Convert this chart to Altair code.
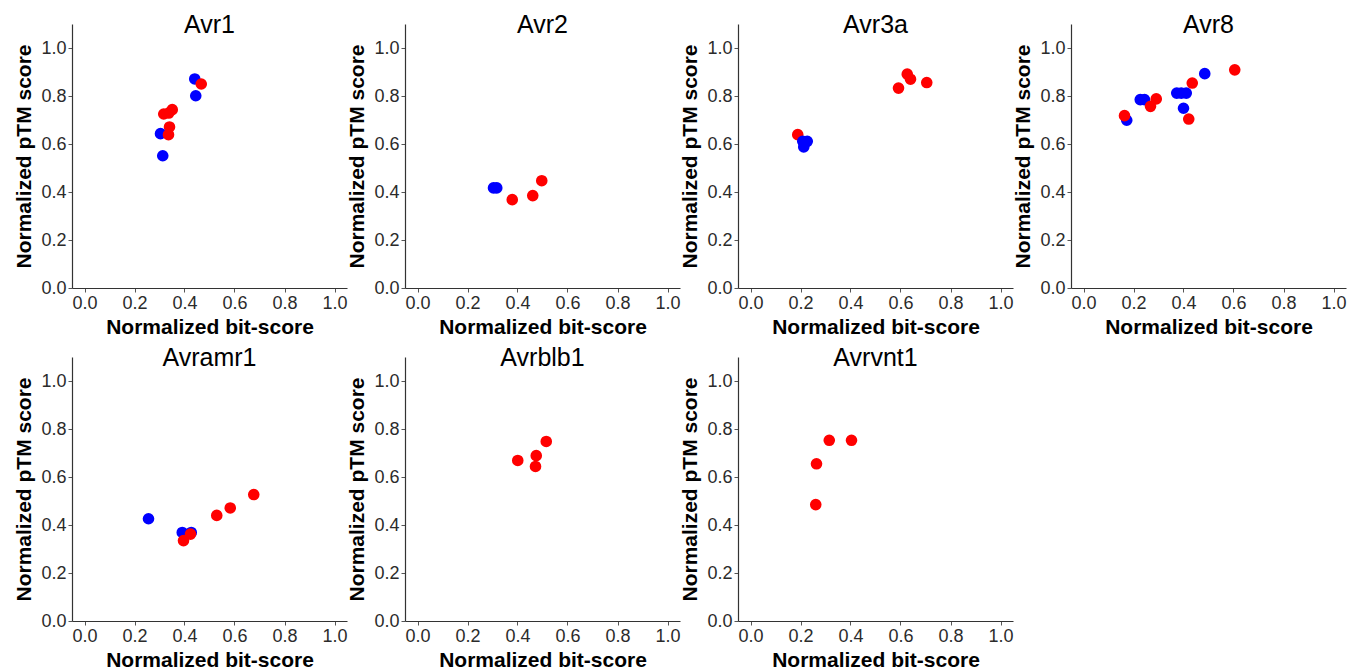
import altair as alt
import pandas as pd

panels = ["Avr1", "Avr2", "Avr3a", "Avr8", "Avramr1", "Avrblb1", "Avrvnt1"]

avr1_x = [0.441, 0.467, 0.445, 0.351, 0.337, 0.317, 0.340, 0.304, 0.336, 0.313]
avr1_y = [0.871, 0.850, 0.801, 0.743, 0.729, 0.725, 0.671, 0.643, 0.639, 0.551]
avr1_g = ["blue", "red", "blue", "red", "red", "red", "red", "blue", "red", "blue"]

avr2_x = [0.304, 0.317, 0.379, 0.461, 0.497]
avr2_y = [0.417, 0.417, 0.368, 0.385, 0.447]
avr2_g = ["blue", "blue", "red", "red", "red"]

avr3a_x = [0.189, 0.209, 0.227, 0.213, 0.592, 0.627, 0.640, 0.705]
avr3a_y = [0.639, 0.611, 0.611, 0.588, 0.833, 0.891, 0.870, 0.856]
avr3a_g = ["red", "blue", "blue", "blue", "red", "red", "red", "red"]

avr8_x = [0.173, 0.164, 0.227, 0.244, 0.291, 0.268, 0.373, 0.391, 0.411, 0.400, 0.421, 0.435, 0.485, 0.605]
avr8_y = [0.699, 0.718, 0.785, 0.785, 0.788, 0.757, 0.812, 0.812, 0.812, 0.749, 0.704, 0.854, 0.893, 0.909]
avr8_g = ["blue", "red", "blue", "blue", "red", "red", "blue", "blue", "blue", "blue", "red", "red", "blue", "red"]

avramr1_x = [0.256, 0.391, 0.427, 0.396, 0.424, 0.529, 0.583, 0.677]
avramr1_y = [0.426, 0.369, 0.369, 0.335, 0.362, 0.440, 0.471, 0.527]
avramr1_g = ["blue", "blue", "blue", "red", "red", "red", "red", "red"]

avrblb1_x = [0.401, 0.475, 0.472, 0.515]
avrblb1_y = [0.669, 0.689, 0.644, 0.748]
avrblb1_g = ["red", "red", "red", "red"]

avrvnt1_x = [0.315, 0.404, 0.264, 0.261]
avrvnt1_y = [0.753, 0.753, 0.655, 0.485]
avrvnt1_g = ["red", "red", "red", "red"]

series = {
    "Avr1": (avr1_x, avr1_y, avr1_g),
    "Avr2": (avr2_x, avr2_y, avr2_g),
    "Avr3a": (avr3a_x, avr3a_y, avr3a_g),
    "Avr8": (avr8_x, avr8_y, avr8_g),
    "Avramr1": (avramr1_x, avramr1_y, avramr1_g),
    "Avrblb1": (avrblb1_x, avrblb1_y, avrblb1_g),
    "Avrvnt1": (avrvnt1_x, avrvnt1_y, avrvnt1_g),
}

tick_values = [0.0, 0.2, 0.4, 0.6, 0.8, 1.0]
group_domain = ["blue", "red"]
group_colors = ["#0000FF", "#FF0000"]

FONT = "Liberation Sans"

charts = []
for name in panels:
    xs, ys, gs = series[name]
    df = pd.DataFrame({"x": xs, "y": ys, "group": gs})
    c = (
        alt.Chart(df)
        .mark_circle(size=135, opacity=1)
        .encode(
            x=alt.X(
                "x:Q",
                scale=alt.Scale(domain=[-0.05, 1.05], nice=False, zero=False),
                axis=alt.Axis(values=tick_values, format=".1f", title="Normalized bit-score"),
            ),
            y=alt.Y(
                "y:Q",
                scale=alt.Scale(domain=[0, 1.1], nice=False, zero=False),
                axis=alt.Axis(values=tick_values, format=".1f", title="Normalized pTM score"),
            ),
            color=alt.Color(
                "group:N",
                scale=alt.Scale(domain=group_domain, range=group_colors),
                legend=None,
            ),
        )
        .properties(
            width=275,
            height=264,
            title=alt.TitleParams(
                text=name, fontSize=25, font=FONT, fontWeight="normal",
                color="#000000", offset=-14, anchor="middle",
            ),
        )
    )
    charts.append(c)

chart = (
    alt.concat(*charts, columns=4, spacing=alt.RowColnumber(column=58, row=69), bounds="flush")
    .properties(padding={"left": 13, "top": 13, "right": 5, "bottom": 5}, background="white")
    .configure_view(stroke=None)
    .configure_axis(
        grid=False,
        domainColor="#333333",
        domainWidth=1.2,
        tickColor="#555555",
        tickSize=4,
        tickWidth=1,
        labelFont=FONT,
        labelFontSize=18,
        labelColor="#2b2b2b",
        labelPadding=2,
        titleFont=FONT,
        titleFontSize=21,
        titleFontWeight="bold",
        titleColor="#000000",
    )
    .configure_axisX(titlePadding=4)
    .configure_axisY(titlePadding=6)
)

chart.save("out.html", embed_options={"renderer": "svg", "actions": False})
